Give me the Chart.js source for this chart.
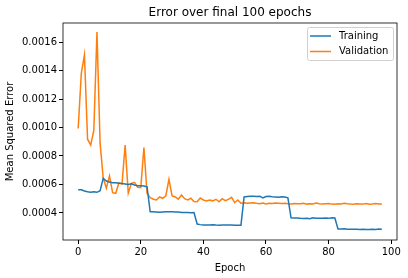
<!DOCTYPE html>
<html>
<head>
<meta charset="utf-8">
<script src="https://cdn.jsdelivr.net/npm/chart.js@4.4.1/dist/chart.umd.min.js"></script>
<style>
  html, body { margin: 0; padding: 0; background: #fff; }
  #wrap { width: 408px; height: 278px; }
</style>
</head>
<body>
<div id="wrap"><canvas id="chart" width="408" height="278"></canvas></div>
<script>
const epochs = Array.from({ length: 98 }, (_, i) => i);
const training = [
    0.000563, 0.000563, 0.000554, 0.000549, 0.000545, 0.000549, 0.000545, 0.000556,
    0.000643, 0.000624, 0.000617, 0.000612, 0.000612, 0.000608, 0.000606, 0.000603, 0.000600, 0.000605, 0.000596, 0.000591, 0.000591, 0.000589, 0.000584,
    0.000408, 0.000409, 0.000407, 0.000405, 0.000407, 0.000408, 0.000408, 0.000409, 0.000407, 0.000406, 0.000404, 0.000404, 0.000403, 0.000402, 0.000403,
    0.000322, 0.000318, 0.000316, 0.000315, 0.000315, 0.000317, 0.000315, 0.000314, 0.000316, 0.000315, 0.000315, 0.000316, 0.000314, 0.000313, 0.000314,
    0.000512, 0.000516, 0.000517, 0.000517, 0.000516, 0.000518, 0.000505, 0.000515, 0.000517, 0.000514, 0.000512, 0.000510, 0.000514, 0.000512, 0.000506,
    0.000366, 0.000365, 0.000364, 0.000362, 0.000361, 0.000363, 0.000359, 0.000366, 0.000362, 0.000363, 0.000362, 0.000364, 0.000362, 0.000367, 0.000365,
    0.000287, 0.000287, 0.000289, 0.000286, 0.000285, 0.000286, 0.000285, 0.000284, 0.000285, 0.000283, 0.000284, 0.000285, 0.000284, 0.000287, 0.000285
];
const validation = [
    0.000993, 0.001380, 0.001510, 0.000918, 0.000876, 0.000980, 0.001670, 0.000890, 0.000645, 0.000573,
    0.000660, 0.000542, 0.000538, 0.000612, 0.000603, 0.000876, 0.000538, 0.000608, 0.000615, 0.000580,
    0.000577, 0.000860, 0.000538, 0.000507, 0.000496, 0.000491, 0.000512, 0.000503, 0.000521, 0.000636,
    0.000520, 0.000512, 0.000497, 0.000526, 0.000500, 0.000492, 0.000503, 0.000480, 0.000478, 0.000505,
    0.000491, 0.000484, 0.000490, 0.000485, 0.000496, 0.000478, 0.000500, 0.000486, 0.000495, 0.000510,
    0.000472, 0.000491, 0.000468,
    0.000472, 0.000468, 0.000470, 0.000472, 0.000468, 0.000465, 0.000470, 0.000463, 0.000468, 0.000466, 0.000470, 0.000468, 0.000466, 0.000468, 0.000465,
    0.000463, 0.000466, 0.000464, 0.000465, 0.000468, 0.000462, 0.000465, 0.000463, 0.000469, 0.000464, 0.000462, 0.000465, 0.000467, 0.000462, 0.000461,
    0.000465, 0.000463, 0.000468, 0.000464, 0.000462, 0.000461, 0.000465, 0.000463, 0.000462, 0.000466, 0.000461, 0.000463, 0.000466, 0.000463, 0.000462
];
const xTicks = [0, 20, 40, 60, 80, 100];
const yTicks = [0.0004, 0.0006, 0.0008, 0.0010, 0.0012, 0.0014, 0.0016];
const chartTitle = 'Error over final 100 epochs';

const font = 'DejaVu Sans';

// frame, title over the axes, and legend box drawn like matplotlib
const framePlugin = {
    id: 'frame',
    afterDraw(chart) {
        const { ctx, chartArea: a } = chart;
        ctx.save();
        ctx.strokeStyle = '#000';
        ctx.lineWidth = 0.8;
        ctx.strokeRect(a.left, a.top, a.right - a.left, a.bottom - a.top);

        ctx.fillStyle = '#000';
        ctx.font = '12px "' + font + '"';
        ctx.textAlign = 'center';
        ctx.textBaseline = 'middle';
        ctx.fillText(chartTitle, (a.left + a.right) / 2, a.top - 10.5);

        // legend
        const x = a.right - 90, y = a.top + 4, w = 86, h = 33;
        ctx.fillStyle = 'rgba(255,255,255,0.8)';
        ctx.strokeStyle = '#d0d0d0';
        ctx.lineWidth = 1;
        ctx.beginPath();
        ctx.roundRect(x + 0.5, y + 0.5, w, h, 2);
        ctx.fill();
        ctx.stroke();
        ctx.font = '10px "' + font + '"';
        ctx.textAlign = 'left';
        chart.data.datasets.forEach((ds, i) => {
            const ly = y + 9 + i * 15.5;
            ctx.strokeStyle = ds.borderColor;
            ctx.lineWidth = 1.5;
            ctx.beginPath();
            ctx.moveTo(x + 3, ly);
            ctx.lineTo(x + 24, ly);
            ctx.stroke();
            ctx.fillStyle = '#000';
            ctx.fillText(ds.label, x + 32, ly);
        });
        ctx.restore();
    }
};

new Chart(document.getElementById('chart').getContext('2d'), {
    type: 'line',
    data: {
        labels: epochs,
        datasets: [{
            label: 'Training',
            data: training,
            borderColor: '#1f77b4',
            borderWidth: 1.5,
            pointRadius: 0,
            tension: 0
        }, {
            label: 'Validation',
            data: validation,
            borderColor: '#ff7f0e',
            borderWidth: 1.5,
            pointRadius: 0,
            tension: 0
        }]
    },
    options: {
        animation: false,
        responsive: false,
        layout: { padding: { left: 0, right: 11, top: 23, bottom: 0 } },
        plugins: {
            legend: { display: false },
            tooltip: { enabled: false },
            title: { display: false }
        },
        scales: {
            x: {
                type: 'linear',
                min: -4.85,
                max: 101.85,
                afterBuildTicks: s => { s.ticks = xTicks.map(v => ({ value: v })); },
                afterFit: s => { s.height = 38; },
                grid: { display: true, drawOnChartArea: false, drawTicks: true, tickLength: 4, color: '#000' },
                border: { display: false },
                ticks: { color: '#000', font: { family: font, size: 10 }, padding: 2, maxRotation: 0, autoSkip: false },
                title: { display: true, text: 'Epoch', color: '#000', font: { family: font, size: 10 }, padding: { top: 0, bottom: 4 } }
            },
            y: {
                min: 0.00021,
                max: 0.001734,
                afterBuildTicks: s => { s.ticks = yTicks.map(v => ({ value: v })); },
                afterFit: s => { s.width = 63; },
                grid: { display: true, drawOnChartArea: false, drawTicks: true, tickLength: 4, color: '#000' },
                border: { display: false },
                ticks: { color: '#000', font: { family: font, size: 10 }, padding: 2, autoSkip: false, callback: v => v.toFixed(4) },
                title: { display: true, text: 'Mean Squared Error', color: '#000', font: { family: font, size: 10 }, padding: { top: 4, bottom: 0 } }
            }
        }
    },
    plugins: [framePlugin]
});
</script>
</body>
</html>
